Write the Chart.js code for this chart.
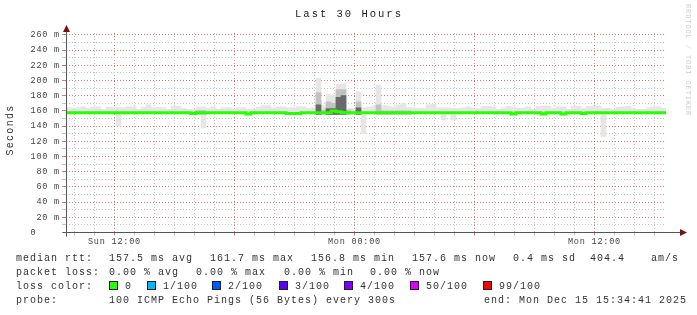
<!DOCTYPE html>
<html>
<head>
<meta charset="utf-8">
<script src="https://cdn.jsdelivr.net/npm/chart.js@4.4.1/dist/chart.umd.min.js"></script>
<style>
  html, body { margin: 0; padding: 0; background: #fff; }
  canvas { display: block; }
</style>
</head>
<body>
<canvas id="smoke" width="697" height="315"></canvas>
<script>
// 30 hours, one bin every 15 minutes, first bin starts Sun 09:34:41
const BIN_HOURS = 0.25;

// median rtt per bin (ms)
const medianRtt = [
  157.5, 157.5, 157.5, 157.5, 157.5, 157.5, 157.5, 157.5, 157.5, 157.5,
  157.5, 157.5, 157.5, 157.5, 157.5, 157.5, 157.5, 157.5, 157.5, 157.5,
  157.5, 157.5, 157.5, 157.5, 157.5, 157.5, 156.5, 157.5, 157.5, 157.5,
  157.5, 157.5, 157.5, 157.5, 157.5, 157.5, 157.5, 156, 157.5, 157.5,
  157.5, 157.5, 157.5, 157.5, 157.5, 156.5, 156.5, 156.5, 157.5, 157.5,
  157.5, 157.5, 157.5, 157.5, 160, 159, 158, 157.5, 157.5, 157.5,
  157.5, 157.5, 157.5, 157.5, 157.5, 157.5, 157.5, 157.5, 157.5, 157.5,
  157.5, 157.5, 157.5, 157.5, 157.5, 157.5, 157.5, 157.5, 157.5, 157.5,
  157.5, 157.5, 157.5, 157.5, 157.5, 157.5, 157.5, 157.5, 157.5, 157.5,
  156, 157.5, 157.5, 157.5, 157.5, 157.5, 156, 157.5, 157.5, 157.5,
  156, 157.5, 157.5, 157.5, 156.5, 157.5, 157.5, 157.5, 157.5, 157.5,
  157.5, 157.5, 157.5, 157.5, 157.5, 157.5, 157.5, 157.5, 157.5, 157.5
];

// outer smoke: slowest ping per bin (ms)
const smokeHigh = [
  164, 164, 164, 165.5, 163.5, 165, 165.5, 162, 165, 165,
  164.5, 164, 165.5, 165.5, 162, 164.5, 168, 164.5, 164.5, 164,
  162, 166, 166, 163.5, 162, 162.5, 165.5, 165.5, 163.5, 165.5,
  162.5, 164, 164.5, 163, 164, 164, 162, 162.5, 165, 167,
  167, 164, 165.5, 165.5, 164, 164.5, 165.5, 165.5, 163.5, 164.5,
  203, 167, 182, 180, 195, 196, 163, 163, 185, 164,
  165, 166, 194, 167, 166.5, 165, 168, 170, 164, 164,
  163.5, 163.5, 168, 169, 164, 164, 164, 163.5, 163.5, 164,
  165.5, 163.5, 163.5, 166, 166.5, 165.5, 162, 164, 166.5, 165,
  163.5, 164, 165.5, 162, 166, 166.5, 166.5, 163.5, 165.5, 165.5,
  162, 166, 166.5, 163.5, 166, 166.5, 166, 163.5, 163.5, 162,
  165, 165.5, 166.5, 163.5, 162, 162, 164, 165.5, 165.5, 163.5
];

// outer smoke: fastest ping per bin (ms)
const smokeLow = [
  156, 156, 156, 156, 156, 156, 156, 156, 156, 156,
  140, 156, 156, 156, 156, 156, 156, 156, 156, 156,
  156, 156, 156, 156, 156, 156, 156, 137.5, 156, 156,
  156, 156, 156, 156, 156, 156, 156, 156, 156, 156,
  156, 156, 156, 156, 156, 156, 156, 156, 156, 156,
  156, 156, 156, 156, 156, 156, 156, 156, 156, 130,
  156, 156, 156, 156, 156, 156, 156, 156, 156, 156,
  156, 156, 156, 156, 156, 148, 156, 148, 156, 156,
  156, 156, 156, 156, 156, 156, 156, 156, 156, 156,
  156, 156, 156, 156, 156, 156, 156, 156, 156, 156,
  156, 156, 156, 156, 156, 156, 156, 126, 156, 156,
  156, 156, 156, 156, 156, 156, 156, 156, 156, 156
];

// denser smoke in the bins with jitter
const bandBins = [26, 27, 50, 51, 52, 53, 54, 55, 56, 58, 62, 63, 64, 65, 66, 67, 68];
const bandMid  = [160.5, 160.5, 184, 161, 172, 170, 188, 188, 161, 172, 168, 160, 160, 160, 160, 160, 160];
const bandDark = [null, null, 168, null, 163, 163, 178, 180, null, 164, null, null, null, null, null, null, null];
const bandFloor = 155.5;

// axes
const yTickValues = [0, 10, 20, 30, 40, 50, 60, 70, 80, 90, 100, 110, 120, 130,
  140, 150, 160, 170, 180, 190, 200, 210, 220, 230, 240, 250, 260];
const firstFullHour = 25.3167 / 60; // Sun 10:00 after 09:34:41
const xTickNames = ["Sun 12:00", "Mon 00:00", "Mon 12:00"];
const xTickHours = [2, 14, 26];

// legend text
const statsRtt = [[16, "median rtt:"], [109, "157.5 ms avg"], [210, "161.7 ms max"],
  [311, "156.8 ms min"], [412, "157.6 ms now"], [513, "0.4 ms sd"], [590, "404.4"], [651, "am/s"]];
const statsLoss = [[16, "packet loss:"], [109, "0.00 % avg"], [196, "0.00 % max"],
  [284, "0.00 % min"], [370, "0.00 % now"]];
const lossNames = ["0", "1/100", "2/100", "3/100", "4/100", "50/100", "99/100"];
const lossColors = ["#26ff00", "#00b8ff", "#0059ff", "#5e00ff", "#7e00ff", "#dd00ff", "#ff0000"];
const lossX = [109, 147, 212, 279, 344, 410, 483];
const probeText = [[16, "probe:"], [109, "100 ICMP Echo Pings (56 Bytes) every 300s"],
  [484, "end: Mon Dec 15 15:34:41 2025"]];

const MONO = "Liberation Mono";
const RED = "rgba(215,70,70,0.75)";
const GRAY = "#c4c4c4";

const hourTicks = [];
for (let k = 0; k < 30; k++) hourTicks.push(firstFullHour + k);

const smokePts = smokeHigh.map((h, i) => ({ x: i * BIN_HOURS + BIN_HOURS / 2, y: [smokeLow[i], h] }));
const midPts = bandBins.map((b, i) => ({ x: b * BIN_HOURS + BIN_HOURS / 2, y: [bandFloor, bandMid[i]] }));
const darkPts = bandBins
  .map((b, i) => ({ x: b * BIN_HOURS + BIN_HOURS / 2, y: [bandFloor, bandDark[i]] }))
  .filter(p => p.y[1] !== null);
const medianPts = medianRtt.map((v, i) => ({ x: i * BIN_HOURS, y: v }));
medianPts.push({ x: medianRtt.length * BIN_HOURS, y: medianRtt[medianRtt.length - 1] });

const decor = {
  id: "decor",
  beforeDraw(chart) {
    const c = chart.ctx;
    c.save();
    c.fillStyle = "#fff";
    c.fillRect(0, 0, chart.width, chart.height);
    c.restore();
    c.letterSpacing = "0.8px";
  },
  afterDraw(chart) {
    const c = chart.ctx;
    const a = chart.chartArea;
    const ax = Math.round(a.left) + 0.5;
    const ay = Math.round(a.bottom - 0.5) + 0.5;
    c.save();
    // axes
    c.strokeStyle = "#555";
    c.lineWidth = 1;
    c.beginPath();
    c.moveTo(a.left - 3, ay);
    c.lineTo(a.right + 16, ay);
    c.moveTo(ax, ay + 4);
    c.lineTo(ax, a.top - 3);
    c.stroke();
    c.fillStyle = "#7a1010";
    c.beginPath();
    c.moveTo(ax, a.top - 8);
    c.lineTo(ax - 3.5, a.top - 1);
    c.lineTo(ax + 3.5, a.top - 1);
    c.closePath();
    c.fill();
    c.beginPath();
    c.moveTo(a.right + 21, ay);
    c.lineTo(a.right + 14, ay - 3.5);
    c.lineTo(a.right + 14, ay + 3.5);
    c.closePath();
    c.fill();

    // title
    c.fillStyle = "#222";
    c.textBaseline = "middle";
    c.textAlign = "center";
    c.letterSpacing = "2px";
    c.font = "10.5px '" + MONO + "'";
    c.fillText("Last 30 Hours", 349, 14);

    // vertical axis title
    c.save();
    c.translate(10, 130);
    c.rotate(-Math.PI / 2);
    c.letterSpacing = "1.3px";
    c.font = "10px '" + MONO + "'";
    c.fillStyle = "#333";
    c.fillText("Seconds", 0, 0);
    c.restore();

    // watermark
    c.save();
    c.translate(688, 4);
    c.rotate(Math.PI / 2);
    c.textAlign = "left";
    c.letterSpacing = "0.9px";
    c.font = "7px '" + MONO + "'";
    c.fillStyle = "#cfcfcf";
    c.fillText("RRDTOOL / TOBI OETIKER", 0, 0);
    c.restore();

    // legend
    c.textAlign = "left";
    c.letterSpacing = "1px";
    c.font = "10px '" + MONO + "'";
    c.fillStyle = "#333";
    statsRtt.forEach(([x, t]) => c.fillText(t, x, 258));
    statsLoss.forEach(([x, t]) => c.fillText(t, x, 272));
    c.fillText("loss color:", 16, 286);
    lossNames.forEach((name, i) => {
      c.fillStyle = lossColors[i];
      c.fillRect(lossX[i], 282, 8, 8);
      c.strokeStyle = "#222";
      c.strokeRect(lossX[i] + 0.5, 281.5, 8, 8);
      c.fillStyle = "#333";
      c.fillText(name, lossX[i] + 16, 286);
    });
    probeText.forEach(([x, t]) => c.fillText(t, x, 300));
    c.restore();
  }
};

const barStyle = { grouped: false, barPercentage: 1, categoryPercentage: 1, borderWidth: 0 };

new Chart(document.getElementById("smoke"), {
  type: "bar",
  data: {
    datasets: [
      { type: "line", label: "median rtt", data: medianPts, borderColor: lossColors[0],
        borderWidth: 3, pointRadius: 0, stepped: "after", borderCapStyle: "butt", order: 0 },
      Object.assign({ label: "dark", data: darkPts, backgroundColor: "#6a6a6a", order: 1 }, barStyle),
      Object.assign({ label: "mid", data: midPts, backgroundColor: "#c2c2c2", order: 2 }, barStyle),
      Object.assign({ label: "smoke", data: smokePts, backgroundColor: "#e6e6e6", order: 3 }, barStyle)
    ]
  },
  options: {
    responsive: false,
    animation: false,
    devicePixelRatio: 1,
    events: [],
    layout: { padding: { top: 33, right: 31, bottom: 0, left: 0 } },
    plugins: { legend: { display: false }, tooltip: { enabled: false } },
    scales: {
      x: {
        type: "linear",
        min: 0,
        max: 30,
        offset: false,
        bounds: "data",
        afterFit: s => { s.height = 82.5; },
        afterBuildTicks: s => { s.ticks = hourTicks.map(v => ({ value: v })); },
        ticks: {
          autoSkip: false,
          maxRotation: 0,
          padding: 1,
          color: "#444",
          font: { family: MONO, size: 8.5 },
          callback: (v, i) => {
            const k = xTickHours.indexOf(i);
            return k >= 0 ? xTickNames[k] : "";
          }
        },
        grid: {
          offset: false,
          color: ctx => (ctx.index % 6 === 2 ? RED : GRAY),
          tickColor: ctx => (ctx.index % 6 === 2 ? RED : GRAY),
          tickLength: 3
        },
        border: { display: false, dash: [1, 2] }
      },
      y: {
        type: "linear",
        min: 0,
        max: 262.5,
        bounds: "data",
        afterFit: s => { s.width = 66; },
        afterBuildTicks: s => { s.ticks = yTickValues.map(v => ({ value: v })); },
        ticks: {
          autoSkip: false,
          padding: 2,
          color: "#444",
          font: { family: MONO, size: 8.5 },
          callback: v => (v % 20 ? "" : v === 0 ? "0    " : v + " m")
        },
        grid: {
          color: ctx => (ctx.tick.value === 0 ? "rgba(0,0,0,0)" : ctx.tick.value % 20 ? GRAY : RED),
          tickColor: ctx => (ctx.tick.value % 20 ? GRAY : RED),
          tickLength: 4
        },
        border: { display: false, dash: [1, 2] }
      }
    }
  },
  plugins: [decor]
});
</script>
</body>
</html>
